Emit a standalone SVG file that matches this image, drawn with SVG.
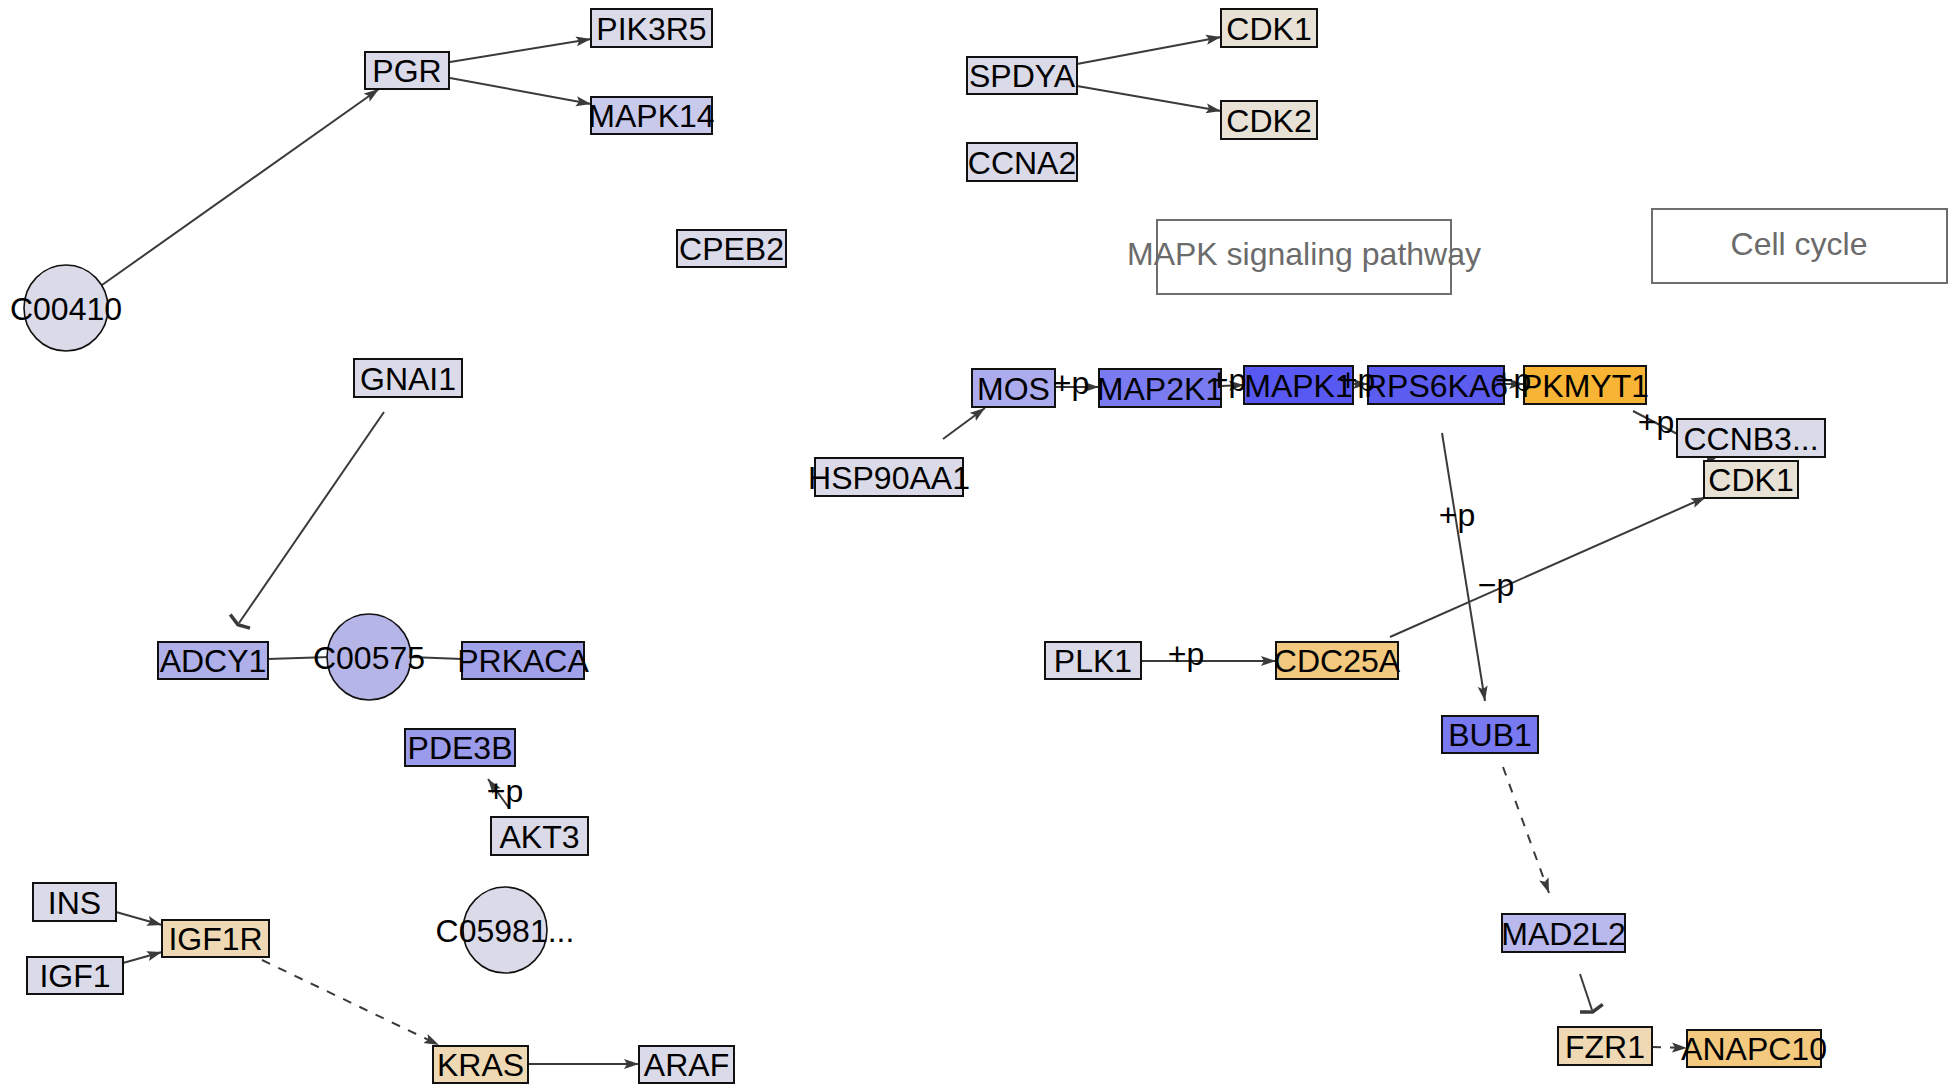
<svg xmlns="http://www.w3.org/2000/svg" width="1952" height="1087" viewBox="0 0 1952 1087">
<style>
.n rect{stroke:#111;stroke-width:2}
.n ellipse{stroke:#111;stroke-width:1.6}
.n text{font-family:"Liberation Sans",Arial,sans-serif;font-size:32px;fill:#000;text-anchor:middle}
.e{stroke:#3a3a3a;stroke-width:2;fill:none}
.d{stroke-dasharray:9 9}
.lbl{font-family:"Liberation Sans",Arial,sans-serif;font-size:32px;fill:#000;text-anchor:middle}
.grp rect{fill:none;stroke:#6e6e6e;stroke-width:2}
.grp text{font-family:"Liberation Sans",Arial,sans-serif;font-size:32px;fill:#6b6b6b;text-anchor:middle}
.lav{fill:#dadae9}
.tan{fill:#eed9b4}
.beige{fill:#e8e2d6}
.gold{fill:#f2c97e}
</style>
<defs>
<marker id="arr" markerUnits="userSpaceOnUse" markerWidth="16" markerHeight="12" refX="15" refY="6" orient="auto">
<path d="M0,1 L15,6 L0,11 L3,6 Z" fill="#3a3a3a"/>
</marker>
<marker id="tee" markerUnits="userSpaceOnUse" markerWidth="8" markerHeight="30" refX="4" refY="15" orient="auto">
<path d="M2,3 L6,15 L2,27" stroke="#3a3a3a" stroke-width="3.5" fill="none"/>
</marker>
</defs>

<g id="groups" class="grp">
<g id="grp-mapk"><rect x="1157" y="220" width="294" height="74"/><text x="1304" y="265">MAPK signaling pathway</text></g>
<g id="grp-cellcycle"><rect x="1652" y="209" width="295" height="74"/><text x="1799" y="255">Cell cycle</text></g>
</g>

<g id="connectors">
<path class="e" d="M102,285 L379,89" marker-end="url(#arr)"/>
<path class="e" d="M450,62 L591,39" marker-end="url(#arr)"/>
<path class="e" d="M450,78 L591,104" marker-end="url(#arr)"/>
<path class="e" d="M1077,64 L1221,37" marker-end="url(#arr)"/>
<path class="e" d="M1077,86 L1221,111" marker-end="url(#arr)"/>
<path class="e" d="M384,412 L239,623" marker-end="url(#tee)"/>
<path class="e" d="M268,659 L330,657"/>
<path class="e" d="M410,657 L462,659"/>
<path class="e" d="M509,808 L488,779" marker-end="url(#arr)"/>
<path class="e" d="M116,912 L162,925" marker-end="url(#arr)"/>
<path class="e" d="M123,963 L162,952" marker-end="url(#arr)"/>
<path class="e d" d="M262,960 L439,1045" marker-end="url(#arr)"/>
<path class="e" d="M528,1064 L639,1064" marker-end="url(#arr)"/>
<path class="e" d="M943,439 L985,408" marker-end="url(#arr)"/>
<path class="e" d="M1055,387 L1099,387" marker-end="url(#arr)"/>
<path class="e" d="M1221,386 L1244,385" marker-end="url(#arr)"/>
<path class="e" d="M1353,384 L1368,384" marker-end="url(#arr)"/>
<path class="e" d="M1504,384 L1524,384" marker-end="url(#arr)"/>
<path class="e" d="M1633,411 L1714,453 L1705,467" marker-end="url(#arr)"/>
<path class="e" d="M1442,433 L1485,701" marker-end="url(#arr)"/>
<path class="e" d="M1390,637 L1706,497" marker-end="url(#arr)"/>
<path class="e" d="M1141,661 L1276,661" marker-end="url(#arr)"/>
<path class="e d" d="M1503,767 L1549,893" marker-end="url(#arr)"/>
<path class="e" d="M1580,974 L1592,1010" marker-end="url(#tee)"/>
<path class="e d" d="M1652,1047 L1687,1048" marker-end="url(#arr)"/>
</g>

<g id="nodes" class="n">
<g id="PGR"><rect class="lav" x="365" y="52" width="84" height="37"/><text x="407" y="82">PGR</text></g>
<g id="PIK3R5"><rect class="lav" x="591" y="9" width="121" height="38"/><text x="651.5" y="39.5">PIK3R5</text></g>
<g id="MAPK14"><rect x="591" y="97" width="121" height="37" fill="#c9c9eb"/><text x="651.5" y="127">MAPK14</text></g>
<g id="CPEB2"><rect class="lav" x="677" y="230" width="109" height="37"/><text x="731.5" y="260">CPEB2</text></g>
<g id="GNAI1"><rect class="lav" x="354" y="359" width="108" height="38"/><text x="408" y="389.5">GNAI1</text></g>
<g id="C00410"><ellipse class="lav" cx="66" cy="308" rx="42" ry="43"/><text x="66" y="319.5">C00410</text></g>
<g id="SPDYA"><rect class="lav" x="967" y="57" width="110" height="37"/><text x="1022" y="87">SPDYA</text></g>
<g id="CDK1a"><rect class="beige" x="1221" y="9" width="96" height="38"/><text x="1269" y="39.5">CDK1</text></g>
<g id="CDK2"><rect class="beige" x="1221" y="101" width="96" height="38"/><text x="1269" y="131.5">CDK2</text></g>
<g id="CCNA2"><rect class="lav" x="967" y="143" width="110" height="38"/><text x="1022" y="173.5">CCNA2</text></g>
<g id="ADCY1"><rect x="158" y="642" width="110" height="37" fill="#afafe9"/><text x="213" y="672">ADCY1</text></g>
<g id="C00575"><ellipse cx="369" cy="657" rx="42" ry="43" fill="#b5b5e8"/><text x="369" y="668.5">C00575</text></g>
<g id="PRKACA"><rect x="462" y="642" width="122" height="37" fill="#a1a1ea"/><text x="523" y="672">PRKACA</text></g>
<g id="PDE3B"><rect x="405" y="729" width="110" height="37" fill="#9b9bec"/><text x="460" y="759">PDE3B</text></g>
<g id="AKT3"><rect class="lav" x="491" y="817" width="97" height="38"/><text x="539.5" y="847.5">AKT3</text></g>
<g id="C05981"><ellipse class="lav" cx="505" cy="930" rx="42" ry="43"/><text x="505" y="941.5">C05981...</text></g>
<g id="INS"><rect class="lav" x="33" y="883" width="83" height="38"/><text x="74.5" y="913.5">INS</text></g>
<g id="IGF1"><rect class="lav" x="27" y="957" width="96" height="37"/><text x="75" y="987">IGF1</text></g>
<g id="IGF1R"><rect class="tan" x="162" y="920" width="107" height="37"/><text x="215.5" y="950">IGF1R</text></g>
<g id="KRAS"><rect class="tan" x="433" y="1046" width="95" height="37"/><text x="480.5" y="1076">KRAS</text></g>
<g id="ARAF"><rect class="lav" x="639" y="1046" width="95" height="37"/><text x="686.5" y="1076">ARAF</text></g>
<g id="MOS"><rect x="972" y="369" width="83" height="38" fill="#ababee"/><text x="1013.5" y="399.5">MOS</text></g>
<g id="MAP2K1"><rect x="1099" y="369" width="122" height="38" fill="#7a7af1"/><text x="1160" y="399.5">MAP2K1</text></g>
<g id="MAPK1"><rect x="1244" y="366" width="109" height="38" fill="#5858f2"/><text x="1298.5" y="396.5">MAPK1</text></g>
<g id="RPS6KA6"><rect x="1368" y="366" width="136" height="38" fill="#5c5cf1"/><text x="1436" y="396.5">RPS6KA6</text></g>
<g id="PKMYT1"><rect x="1524" y="366" width="122" height="38" fill="#f8b535"/><text x="1585" y="396.5">PKMYT1</text></g>
<g id="HSP90AA1"><rect class="lav" x="815" y="458" width="148" height="38"/><text x="889" y="488.5">HSP90AA1</text></g>
<g id="CCNB3"><rect class="lav" x="1677" y="419" width="148" height="38"/><text x="1751" y="449.5">CCNB3...</text></g>
<g id="CDK1b"><rect class="beige" x="1704" y="461" width="94" height="37"/><text x="1751" y="491">CDK1</text></g>
<g id="PLK1"><rect class="lav" x="1045" y="642" width="96" height="37"/><text x="1093" y="672">PLK1</text></g>
<g id="CDC25A"><rect class="gold" x="1276" y="642" width="122" height="37"/><text x="1337" y="672">CDC25A</text></g>
<g id="BUB1"><rect x="1442" y="716" width="96" height="37" fill="#7878f1"/><text x="1490" y="746">BUB1</text></g>
<g id="MAD2L2"><rect x="1502" y="914" width="123" height="38" fill="#b9b9ee"/><text x="1563.5" y="944.5">MAD2L2</text></g>
<g id="FZR1"><rect class="tan" x="1558" y="1027" width="94" height="38"/><text x="1605" y="1057.5">FZR1</text></g>
<g id="ANAPC10"><rect class="gold" x="1687" y="1030" width="134" height="37"/><text x="1754" y="1060">ANAPC10</text></g>
</g>

<g id="edge-labels">
<text class="lbl" x="505" y="802">+p</text>
<text class="lbl" x="1071" y="394">+p</text>
<text class="lbl" x="1228" y="391">+p</text>
<text class="lbl" x="1357" y="391">+p</text>
<text class="lbl" x="1513" y="391">+p</text>
<text class="lbl" x="1656" y="433">+p</text>
<text class="lbl" x="1457" y="526">+p</text>
<text class="lbl" x="1496" y="596">−p</text>
<text class="lbl" x="1186" y="665">+p</text>
</g>
</svg>
